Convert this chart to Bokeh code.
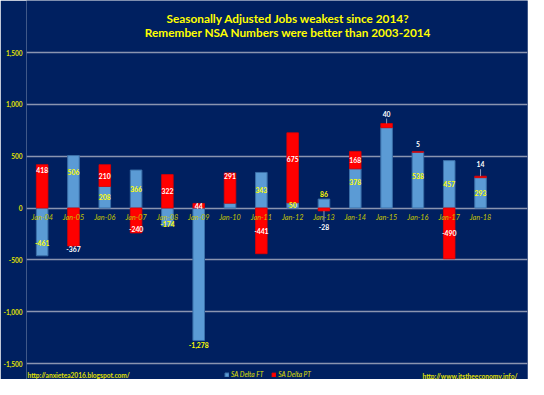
from bokeh.plotting import figure
from bokeh.models import (ColumnDataSource, Label, Legend, LegendItem,
                          FixedTicker, NumeralTickFormatter, Range1d)
from bokeh.core.properties import value
from bokeh.embed import file_html
from bokeh.resources import INLINE

# ---------------- data ----------------
categories = ["Jan-04", "Jan-05", "Jan-06", "Jan-07", "Jan-08", "Jan-09", "Jan-10",
              "Jan-11", "Jan-12", "Jan-13", "Jan-14", "Jan-15", "Jan-16", "Jan-17", "Jan-18"]
sa_delta_ft = [-461, 506, 208, 366, -174, -1278, 47, 343, 50, 86, 378, 775, 538, 457, 293]
sa_delta_pt = [418, -367, 210, -240, 322, 44, 291, -441, 675, -28, 168, 40, 5, -490, 14]
y_ticks = [-1500, -1000, -500, 0, 500, 1000, 1500]
series_names = ["SA Delta FT", "SA Delta PT"]
title_lines = ["Seasonally Adjusted Jobs weakest since 2014?",
               "Remember NSA Numbers were better than 2003-2014"]
footer_left = "http://anxietea2016.blogspot.com/"
footer_right = "http://www.itstheeconomy.info/"
hidden_ft_labels = ["Jan-10", "Jan-15"]

# label placement tweaks: (category, series) -> (anchor, px offset upward, leader line)
label_tweaks = {
    ("Jan-04", "PT"): ("c", 16, False),
    ("Jan-04", "FT"): ("c", -11, False),
    ("Jan-05", "FT"): ("c", 10, False),
    ("Jan-05", "PT"): ("end", -3, False),
    ("Jan-07", "PT"): ("c", -9, False),
    ("Jan-08", "FT"): ("c", -7, False),
    ("Jan-09", "FT"): ("end", -5, False),
    ("Jan-10", "PT"): ("c", 12, False),
    ("Jan-12", "PT"): ("c", 9, False),
    ("Jan-13", "FT"): ("end", 5, False),
    ("Jan-13", "PT"): ("end", -16, True),
    ("Jan-14", "FT"): ("c", 6, False),
    ("Jan-15", "PT"): ("end", 10, True),
    ("Jan-16", "PT"): ("end", 8, False),
    ("Jan-16", "FT"): ("c", 4, False),
    ("Jan-18", "PT"): ("end", 12, True),
}

# ---------------- styling ----------------
BG = "#002060"
FT_FILL, FT_LINE = "#5b9bd5", "#3a6fa8"
PT_FILL, PT_LINE = "#ff0000", "#e00000"
GRID = "#8a94b0"
TITLE_COL = "#ffff00"
AXIS_COL = "#e0e000"
CAT_COL = "#c4c400"
FONT = "Lato"

W, H = 528, 379
LEFT = 23               # axis panel width
TOP_PAD = 52            # px above the 1,500 grid line (title area)
GRID_SPAN_PX = 311      # pixels between the -1500 and 1500 grid lines
y0, y1 = -1500, 1500
dpp = (y1 - y0) / GRID_SPAN_PX  # data units per pixel
y_top = y1 + TOP_PAD * dpp
y_bottom = y0 - (H - TOP_PAD - GRID_SPAN_PX) * dpp

n = len(categories)
xs = list(range(n))

# stacking like Excel stacked columns (positives up, negatives down)
pos = [0] * n
neg = [0] * n
stacks = []
for s in (sa_delta_ft, sa_delta_pt):
    bots, tops = [], []
    for i, v in enumerate(s):
        if v >= 0:
            b = pos[i]; t = b + v; pos[i] = t
        else:
            t = neg[i]; b = t + v; neg[i] = b
        bots.append(b); tops.append(t)
    stacks.append((bots, tops))

p = figure(width=W, height=H, output_backend="svg", toolbar_location=None, title=None,
           x_range=Range1d(-0.5, 15.5), y_range=Range1d(y_bottom, y_top),
           x_axis_location=None, min_border_left=LEFT, min_border_right=1,
           min_border_top=0, min_border_bottom=0,
           background_fill_color=BG, border_fill_color=BG, outline_line_color=None)

# axis / grid
p.yaxis.ticker = FixedTicker(ticks=y_ticks)
p.yaxis.formatter = NumeralTickFormatter(format="0,0")
p.yaxis.axis_line_color = None
p.yaxis.major_tick_line_color = None
p.yaxis.minor_tick_line_color = None
p.yaxis.major_tick_out = 0
p.yaxis.major_label_standoff = 4
p.yaxis.major_label_text_color = AXIS_COL
p.yaxis.major_label_text_font = FONT
p.yaxis.major_label_text_font_size = "6.5px"
p.yaxis.major_label_text_font_style = "bold"
p.xgrid.grid_line_color = None
p.ygrid.grid_line_color = GRID
p.ygrid.grid_line_width = 1.3

# bars
bw = 0.37
r_ft = p.vbar(x=xs, bottom=stacks[0][0], top=stacks[0][1], width=bw,
              fill_color=FT_FILL, line_color=FT_LINE, line_width=1)
r_pt = p.vbar(x=xs, bottom=stacks[1][0], top=stacks[1][1], width=bw,
              fill_color=PT_FILL, line_color=PT_LINE, line_width=0.8)

# data labels
lab = {"FT": dict(x=[], y=[], t=[]), "PT": dict(x=[], y=[], t=[])}
lead = dict(x0=[], y0=[], x1=[], y1=[])
for key, vals, (bots, tops) in (("FT", sa_delta_ft, stacks[0]), ("PT", sa_delta_pt, stacks[1])):
    for i, v in enumerate(vals):
        cat = categories[i]
        if key == "FT" and cat in hidden_ft_labels:
            continue
        anchor, off, leader = label_tweaks.get((cat, key), ("c", 0, False))
        if anchor == "c":
            y = (bots[i] + tops[i]) / 2 + off * dpp
        else:
            end = tops[i] if v >= 0 else bots[i]
            y = end + off * dpp
            if leader:
                sign = 1 if off > 0 else -1
                lead["x0"].append(i); lead["x1"].append(i)
                lead["y0"].append(end)
                lead["y1"].append(end + sign * (abs(off) - 5) * dpp)
        lab[key]["x"].append(i)
        lab[key]["y"].append(y)
        lab[key]["t"].append(f"{v:,}")

p.segment(x0=lead["x0"], y0=lead["y0"], x1=lead["x1"], y1=lead["y1"],
          line_color="#b0b8d0", line_width=0.8)
for key, col in (("FT", "#ffff00"), ("PT", "#ffffff")):
    src = ColumnDataSource(dict(x=lab[key]["x"], y=lab[key]["y"], t=lab[key]["t"]))
    p.text(x="x", y="y", text="t", source=src, text_color=col,
           text_font=value(FONT), text_font_size="6.8px", text_font_style="bold",
           text_align="center", text_baseline="middle")

# category labels just below zero line
cat_src = ColumnDataSource(dict(x=xs, y=[-9.4 * dpp] * n, t=categories))
p.text(x="x", y="y", text="t", source=cat_src, text_color=CAT_COL,
       text_font=value(FONT), text_font_size="7.3px", text_font_style="italic",
       text_align="center", text_baseline="middle")

# title lines (screen units relative to the plotting frame, y up from its bottom)
for txt, yc in ((title_lines[0], H - 17.7), (title_lines[1], H - 31.7)):
    p.add_layout(Label(x=261.7, y=yc, x_units="screen", y_units="screen", text=txt,
                       text_color=TITLE_COL, text_font=FONT, text_font_size="11.8px",
                       text_font_style="bold", text_align="center", text_baseline="middle"))

# legend
legend = Legend(items=[LegendItem(label=series_names[0], renderers=[r_ft]),
                       LegendItem(label=series_names[1], renderers=[r_pt])],
                orientation="horizontal", location=(198, 1),
                background_fill_alpha=0, border_line_color=None,
                label_text_color=AXIS_COL, label_text_font=FONT,
                label_text_font_size="6.6px", label_text_font_style="italic",
                glyph_width=5, glyph_height=5, label_standoff=2, spacing=8,
                padding=0, margin=0, label_height=7, label_width=20)
p.add_layout(legend, "center")

# footers
for txt, x, y, align in ((footer_left, 1, 4.4, "left"), (footer_right, 491, 4.0, "right")):
    p.add_layout(Label(x=x, y=y, x_units="screen", y_units="screen", text=txt,
                       text_color=AXIS_COL, text_font=FONT, text_font_size="6.6px",
                       text_font_style="bold", text_align=align, text_baseline="middle"))

open("out.html", "w").write(file_html(p, INLINE))
